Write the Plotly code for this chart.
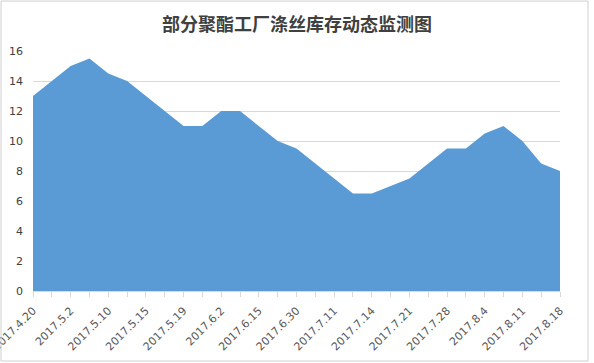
import plotly.graph_objects as go

title = "部分聚酯工厂涤丝库存动态监测图"
tick_labels = ["2017.4.20", "2017.5.2", "2017.5.10", "2017.5.15", "2017.5.19",
               "2017.6.2", "2017.6.15", "2017.6.30", "2017.7.11", "2017.7.14",
               "2017.7.21", "2017.7.28", "2017.8.4", "2017.8.11", "2017.8.18"]
values = [13, 14, 15, 15.5, 14.5, 14, 13, 12, 11, 11, 12, 12, 11, 10, 9.5,
          8.5, 7.5, 6.5, 6.5, 7, 7.5, 8.5, 9.5, 9.5, 10.5, 11, 10, 8.5, 8]
y_ticks = [0, 2, 4, 6, 8, 10, 12, 14, 16]

x = list(range(len(values)))
ticktext = []
for i in x:
    ticktext.append(tick_labels[i // 2] if i % 2 == 0 else "")

W, H = 594, 363
L, R, T, B = 33, 34, 51, 72
pw, ph = W - L - R, H - T - B

fig = go.Figure()
fig.add_trace(go.Scatter(
    x=x, y=values, mode="lines", fill="tozeroy",
    line=dict(color="#5B9BD5", width=0), fillcolor="#5B9BD5",
    hoverinfo="skip", showlegend=False))

def px(v):
    return (v - L) / pw

def py(v):
    return (H - B - v) / ph

fig.update_layout(
    width=W, height=H,
    margin=dict(l=L, r=R, t=T, b=B, autoexpand=False),
    paper_bgcolor="white", plot_bgcolor="white",
    title=dict(text="<b>" + title + "</b>", x=0.5, xanchor="center",
               y=1 - 24.5 / H, yanchor="middle",
               font=dict(family="Noto Sans CJK SC", size=18, color="#404040")),
    xaxis=dict(range=[0, len(values) - 1], tickmode="array", tickvals=x,
               ticktext=ticktext, tickangle=-45, ticks="outside", ticklen=5,
               tickcolor="#d9d9d9", showline=True, linecolor="#d9d9d9",
               linewidth=1, showgrid=False, zeroline=False, automargin=False,
               ticklabeloverflow="allow", ticklabelstandoff=3,
               tickfont=dict(family="DejaVu Sans", size=11, color="#595959")),
    yaxis=dict(range=[0, 16], tickvals=y_ticks, showgrid=True,
               gridcolor="#d9d9d9", gridwidth=1, zeroline=False,
               showline=False, ticks="", ticklabelstandoff=9, automargin=False,
               tickfont=dict(family="DejaVu Sans", size=11, color="#404040")),
    shapes=[dict(type="rect", xref="paper", yref="paper",
                 x0=px(1), x1=px(588), y0=py(361), y1=py(1),
                 line=dict(color="#d0d0d0", width=1), fillcolor="rgba(0,0,0,0)",
                 layer="above")],
)

fig.write_html("out.html", config={"displayModeBar": False},
               post_script="document.body.style.margin='0';document.body.style.padding='0';")
